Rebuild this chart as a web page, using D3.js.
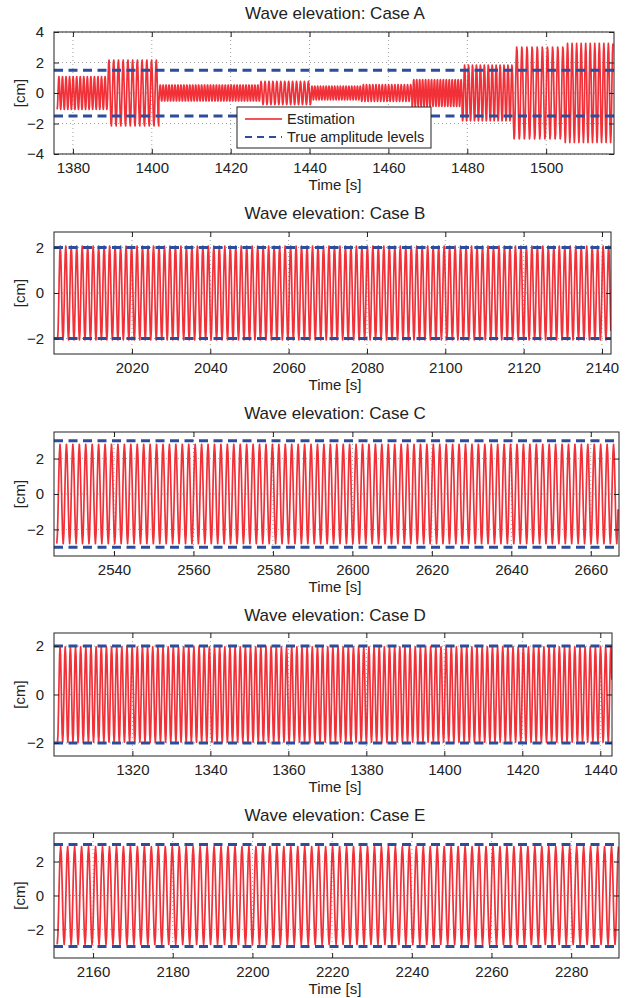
<!DOCTYPE html>
<html>
<head>
<meta charset="utf-8">
<script src="https://cdn.jsdelivr.net/npm/d3@7/dist/d3.min.js"></script>
<style>
  body { margin: 0; background: #fff; }
  svg { font-family: "Liberation Sans", Arial, sans-serif; }
  .frame { fill: none; stroke: #222; stroke-width: 1; }
  .grid line { stroke: #8a8a8a; stroke-dasharray: 1,3; stroke-width: 0.8; }
  .tick-label { font-size: 15px; fill: #222; }
  .title { font-size: 17px; fill: #222; }
  .label { font-size: 15px; fill: #222; }
  .legend-label { font-size: 14.5px; fill: #222; }
</style>
</head>
<body>
<div id="chart"></div>
<script>
// segments: [start s, end s, amplitude cm, period s]
var segmentsA = [
  [1376.0, 1388.8, 1.08, 0.9],
  [1388.8, 1401.8, 2.18, 1.2],
  [1401.8, 1427.4, 0.54, 0.75],
  [1427.4, 1440.4, 0.76, 1.0],
  [1440.4, 1453.0, 0.45, 0.72],
  [1453.0, 1466.0, 0.55, 0.8],
  [1466.0, 1478.7, 0.9, 0.75],
  [1478.7, 1491.6, 1.85, 1.0],
  [1491.6, 1504.5, 3.05, 1.3],
  [1504.5, 1517.0, 3.25, 1.15]
];
var segmentsB = [[2001.0, 2142.3, 2.06, 1.4]];
var segmentsC = [[2525.6, 2667.0, 2.8, 1.62]];
var segmentsD = [[1300.8, 1443.0, 1.97, 1.32]];
var segmentsE = [[2151.0, 2292.0, 2.88, 1.75]];

var levelsA = [1.5, -1.5];
var levelsB = [2, -2];
var levelsC = [3, -3];
var levelsD = [2, -2];
var levelsE = [3, -3];

var xTicksA = [1380, 1400, 1420, 1440, 1460, 1480, 1500];
var xTicksB = [2020, 2040, 2060, 2080, 2100, 2120, 2140];
var xTicksC = [2540, 2560, 2580, 2600, 2620, 2640, 2660];
var xTicksD = [1320, 1340, 1360, 1380, 1400, 1420, 1440];
var xTicksE = [2160, 2180, 2200, 2220, 2240, 2260, 2280];

var yTicksA = [-4, -2, 0, 2, 4];
var yTicksB = [-2, 0, 2];
var yTicksC = [-2, 0, 2];
var yTicksD = [-2, 0, 2];
var yTicksE = [-2, 0, 2];

var titles = ["Case A", "Case B", "Case C", "Case D", "Case E"];
var legendLabels = ["Estimation", "True amplitude levels"];

var panels = [
  {seg: segmentsA, lev: levelsA, xt: xTicksA, yt: yTicksA, xd: [1375.2, 1517.2], yd: [-4, 4],
   box: [54, 32, 614, 154], titleY: 19, legend: true},
  {seg: segmentsB, lev: levelsB, xt: xTicksB, yt: yTicksB, xd: [2000.1, 2142.3], yd: [-2.68, 2.68],
   box: [54, 232, 611, 354], titleY: 219},
  {seg: segmentsC, lev: levelsC, xt: xTicksC, yt: yTicksC, xd: [2524.9, 2667.1], yd: [-3.5, 3.5],
   box: [54, 432, 619, 556], titleY: 419},
  {seg: segmentsD, lev: levelsD, xt: xTicksD, yt: yTicksD, xd: [1299.9, 1443.0], yd: [-2.54, 2.54],
   box: [54, 633, 612, 756], titleY: 621},
  {seg: segmentsE, lev: levelsE, xt: xTicksE, yt: yTicksE, xd: [2150.2, 2292.0], yd: [-3.68, 3.68],
   box: [54, 833, 619, 958], titleY: 821}
];

// turn amplitude segments into a sampled oscillation
function waveFromSegments(seg) {
  var pts = [];
  var phase = -Math.PI / 2;
  seg.forEach(function(s) {
    var t0 = s[0], t1 = s[1], amp = s[2], per = s[3];
    var dt = per / 10;
    for (var t = t0; t < t1; t += dt) {
      pts.push({t: t, v: amp * Math.sin(phase + 2 * Math.PI * (t - t0) / per)});
    }
    phase += 2 * Math.PI * (t1 - t0) / per;
  });
  return pts;
}

var svg = d3.select("#chart").append("svg")
  .attr("width", 635)
  .attr("height", 998);

panels.forEach(function(p, i) {
  var x0 = p.box[0], y0 = p.box[1], x1 = p.box[2], y1 = p.box[3];
  var x = d3.scaleLinear().domain(p.xd).range([x0, x1]);
  var y = d3.scaleLinear().domain(p.yd).range([y1, y0]);
  var g = svg.append("g").attr("class", "panel");

  var clipId = "clip" + i;
  g.append("clipPath").attr("id", clipId)
    .append("rect")
    .attr("x", x0).attr("y", y0)
    .attr("width", x1 - x0).attr("height", y1 - y0);

  // grid
  var grid = g.append("g").attr("class", "grid");
  grid.selectAll(".gx").data(p.xt).enter().append("line")
    .attr("x1", function(d) { return x(d); })
    .attr("x2", function(d) { return x(d); })
    .attr("y1", y0).attr("y2", y1);
  grid.selectAll(".gy").data(p.yt).enter().append("line")
    .attr("y1", function(d) { return y(d); })
    .attr("y2", function(d) { return y(d); })
    .attr("x1", x0).attr("x2", x1);

  // estimation
  var line = d3.line()
    .x(function(d) { return x(d.t); })
    .y(function(d) { return y(d.v); });

  g.append("path")
    .datum(waveFromSegments(p.seg))
    .attr("clip-path", "url(#" + clipId + ")")
    .attr("fill", "none")
    .attr("stroke", "#f01a22")
    .attr("stroke-width", 1.7)
    .attr("stroke-opacity", 0.9)
    .attr("stroke-linejoin", "round")
    .attr("d", line);

  // true amplitude levels
  g.selectAll(".level").data(p.lev).enter().append("line")
    .attr("clip-path", "url(#" + clipId + ")")
    .attr("x1", x0).attr("x2", x1)
    .attr("y1", function(d) { return y(d); })
    .attr("y2", function(d) { return y(d); })
    .attr("stroke", "#2c4c9c")
    .attr("stroke-width", 3)
    .attr("stroke-dasharray", "9,5.5");

  // axes: ticks inward on all sides
  var tl = 5;
  var axB = d3.axisBottom(x).tickValues(p.xt).tickSize(-tl).tickPadding(8).tickFormat(d3.format("d"));
  var axT = d3.axisTop(x).tickValues(p.xt).tickSize(-tl).tickFormat("");
  var axL = d3.axisLeft(y).tickValues(p.yt).tickSize(-tl).tickPadding(tl + 5).tickFormat(function(d) {
    return d < 0 ? "\u2212" + Math.abs(d) : d;
  });
  var axR = d3.axisRight(y).tickValues(p.yt).tickSize(-tl).tickFormat("");

  [
    [axB, "translate(0," + y1 + ")"],
    [axT, "translate(0," + y0 + ")"],
    [axL, "translate(" + x0 + ",0)"],
    [axR, "translate(" + x1 + ",0)"]
  ].forEach(function(a) {
    var ag = g.append("g").attr("transform", a[1]).call(a[0]);
    ag.select(".domain").remove();
    ag.selectAll("line").attr("stroke", "#222");
    ag.selectAll("text").attr("class", "tick-label").attr("font-size", null).attr("font-family", null);
  });

  g.append("rect").attr("class", "frame")
    .attr("x", x0).attr("y", y0)
    .attr("width", x1 - x0).attr("height", y1 - y0);

  g.append("text").attr("class", "title")
    .attr("x", 335).attr("y", p.titleY)
    .attr("text-anchor", "middle")
    .text("Wave elevation: " + titles[i]);

  g.append("text").attr("class", "label")
    .attr("x", 335).attr("y", y1 + 36)
    .attr("text-anchor", "middle")
    .text("Time [s]");

  g.append("text").attr("class", "label")
    .attr("transform", "translate(25," + ((y0 + y1) / 2) + ") rotate(-90)")
    .attr("text-anchor", "middle")
    .text("[cm]");

  if (p.legend) {
    var lg = g.append("g").attr("transform", "translate(237,107)");
    lg.append("rect")
      .attr("width", 194).attr("height", 41)
      .attr("fill", "#fff").attr("stroke", "#222");
    lg.append("line")
      .attr("x1", 8).attr("x2", 45).attr("y1", 12).attr("y2", 12)
      .attr("stroke", "#f01a22").attr("stroke-width", 1.5);
    lg.append("line")
      .attr("x1", 8).attr("x2", 45).attr("y1", 30).attr("y2", 30)
      .attr("stroke", "#2c4c9c").attr("stroke-width", 2)
      .attr("stroke-dasharray", "7,5");
    lg.selectAll(".lt").data(legendLabels).enter().append("text")
      .attr("class", "legend-label")
      .attr("x", 50)
      .attr("y", function(d, k) { return 17 + k * 18; })
      .text(function(d) { return d; });
  }
});
</script>
</body>
</html>
